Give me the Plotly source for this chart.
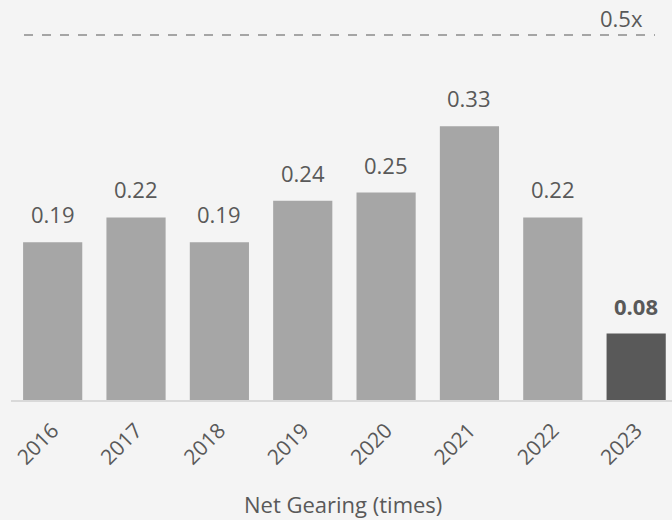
import plotly.graph_objects as go

years = ["2016", "2017", "2018", "2019", "2020", "2021", "2022", "2023"]
net_gearing = [0.19, 0.22, 0.19, 0.24, 0.25, 0.33, 0.22, 0.08]
bar_colors = ["#a6a6a6"] * 7 + ["#595959"]
label_bold = [False] * 7 + [True]
threshold_label = "0.5x"
axis_title = "Net Gearing (times)"

FONT = "Open Sans"
TXT = "#595959"

fig = go.Figure()
fig.add_trace(go.Bar(
    x=years, y=net_gearing, marker=dict(color=bar_colors, line=dict(width=0)),
    hoverinfo="skip",
))

annotations = []
for i, (v, b) in enumerate(zip(net_gearing, label_bold)):
    annotations.append(dict(
        x=i, y=v, xref="x", yref="y", text=(f"<b>{v:.2f}</b>" if b else f"{v:.2f}"),
        showarrow=False, yanchor="bottom", yshift=11,
        font=dict(family=FONT, size=22, color=TXT),
    ))
annotations.append(dict(
    x=(621 - 11) / 661, y=(400 - 18) / 400, xref="paper", yref="paper",
    text=threshold_label, showarrow=False, xanchor="center", yanchor="middle",
    font=dict(family=FONT, size=22, color=TXT),
))
annotations.append(dict(
    x=(343 - 11) / 661, y=-(504 - 400) / 400, xref="paper", yref="paper",
    text=axis_title, showarrow=False, xanchor="center", yanchor="middle",
    font=dict(family=FONT, size=22, color=TXT),
))

fig.update_layout(
    width=672, height=520,
    margin=dict(l=11, r=0, t=0, b=120),
    paper_bgcolor="#f4f4f4", plot_bgcolor="#f4f4f4",
    bargap=0.29, showlegend=False,
    annotations=annotations,
    shapes=[dict(
        type="line", xref="paper", yref="paper",
        x0=(24 - 11) / 661, x1=(655 - 11) / 661,
        y0=(400 - 35) / 400, y1=(400 - 35) / 400,
        line=dict(color="#8a8a8a", width=1.5, dash="dash"),
    )],
)
fig.update_xaxes(
    type="category",
    range=[-0.5, 7.43], tickangle=-45, showgrid=False, zeroline=False,
    showline=True, linecolor="#d9d9d9", linewidth=2,
    tickfont=dict(family=FONT, size=21, color=TXT), ticks="",
    ticklabelstandoff=8,
)
fig.update_yaxes(
    range=[0, 0.482], visible=False, showgrid=False, zeroline=False,
)

fig.write_html("out.html")
